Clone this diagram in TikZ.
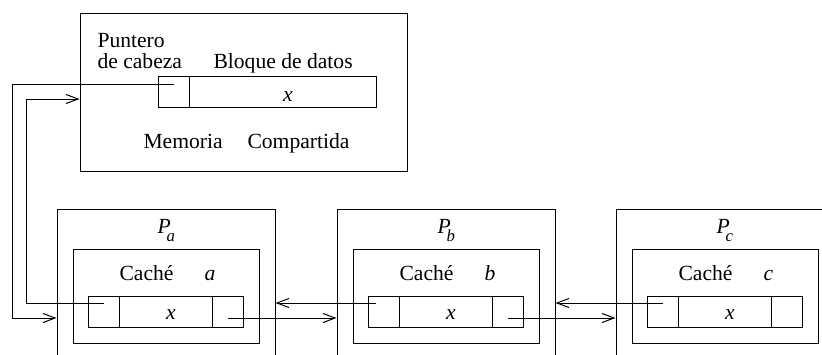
\documentclass[tikz,border=0pt]{standalone}
\usepackage{fontspec}
\setmainfont{Liberation Serif}
\usetikzlibrary{arrows.meta,fit,calc}
\newcommand{\psub}[1]{\textit{P}\kern-2pt\raisebox{-4pt}{\fontsize{8.4pt}{9pt}\selectfont\textit{#1}}}
\begin{document}
\begin{tikzpicture}[x=0.5pt,y=-0.5pt, line width=0.5pt,
  font=\fontsize{10.8pt}{13pt}\selectfont,
  box/.style={draw, rectangle, inner sep=0pt},
  arr/.style={-{Straight Barb[length=6pt,width=4.5pt]}},
  lbl/.style={anchor=base west, inner sep=0pt},
  clbl/.style={anchor=base, inner sep=0pt}]
\useasboundingbox (0,0) rectangle (822,354);
\clip (0,0) rectangle (822,354);
% shared memory
\node[box, fit={(80,13) (407,171)}] (mem) {};
\node[box, fit={(158,76) (189,107)}] (memptr) {};
\node[box, fit={(189,76) (376,107)}] (memdata) {};
\node[lbl] (punt) at (97,47) {Puntero};
\node[lbl] (cab) at (97,68) {de cabeza};
\node[lbl] (bloq) at (213,68) {Bloque de datos};
\node[clbl] (memx) at (288,101) {\textit{x}};
\node[lbl] (memo) at (143,148) {Memoria};
\node[lbl] (comp) at (247,148) {Compartida};
% processors
\foreach \n/\X/\s in {a/57/a, b/337/b, c/616/c} {
  \node[box, fit={(\X,209) (\X+218,380)}] (P\n) {};
  \node[box, fit={(\X+16,249) (\X+202,343)}] (C\n) {};
  \node[box, fit={(\X+31,296) (\X+62,327)}] (ptr\n) {};
  \node[box, fit={(\X+62,296) (\X+155,327)}] (dat\n) {};
  \node[box, fit={(\X+155,296) (\X+186,327)}] (nxt\n) {};
  \node[lbl] (Pl\n) at (\X+100,233) {\psub{\s}};
  \node[lbl] (Cl\n) at (\X+62,280) {Caché};
  \node[lbl] (Cs\n) at (\X+147,280) {\textit{\s}};
  \node[clbl] (x\n) at (\X+114,319) {\textit{x}};
}
% connectors
\coordinate (s1) at ($(memptr.center)+(0,-7.5)$);
\coordinate (s2) at ($(ptra.center)+(0,-8.5)$);
\coordinate (s3) at ($(nxta.center)+(0,6.5)$);
\coordinate (s4) at ($(ptrb.center)+(-8,-8.5)$);
\coordinate (s5) at ($(nxtb.center)+(0,6.5)$);
\coordinate (s6) at ($(ptrc.center)+(0,-8.5)$);
\draw[arr] (s1) -- (12,84) -- (12,318) -- (Pa.west |- s3);
\draw[arr] (s2) -- (26,303) -- (26,99) -- (mem.west |- 0,99);
\draw[arr] (s3) -- (Pb.west |- s3);
\draw[arr] (s4) -- (Pa.east |- s4);
\draw[arr] (s5) -- (Pc.west |- s5);
\draw[arr] (s6) -- (Pb.east |- s6);
\end{tikzpicture}
\end{document}
